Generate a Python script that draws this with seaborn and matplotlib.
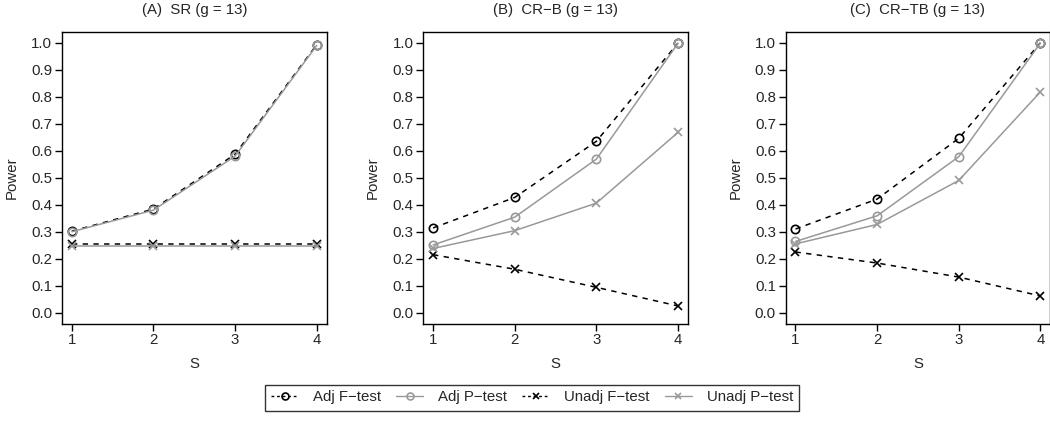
import numpy as np
import pandas as pd
import seaborn as sns
import matplotlib
matplotlib.use("Agg")
import matplotlib.pyplot as plt
from matplotlib.lines import Line2D

S = [1, 2, 3, 4]
panel_titles = ["(A)  SR (g = 13)", "(B)  CR\u2212B (g = 13)", "(C)  CR\u2212TB (g = 13)"]
series_names = ["Adj F\u2212test", "Adj P\u2212test", "Unadj F\u2212test", "Unadj P\u2212test"]

# Panel A (SR)
A_adj_F = [0.302, 0.384, 0.587, 0.993]
A_adj_P = [0.300, 0.380, 0.580, 0.990]
A_unadj_F = [0.253, 0.253, 0.253, 0.253]
A_unadj_P = [0.247, 0.247, 0.247, 0.247]
# Panel B (CR-B)
B_adj_F = [0.314, 0.427, 0.635, 0.999]
B_adj_P = [0.251, 0.354, 0.569, 0.998]
B_unadj_F = [0.215, 0.161, 0.094, 0.025]
B_unadj_P = [0.238, 0.304, 0.406, 0.668]
# Panel C (CR-TB)
C_adj_F = [0.310, 0.421, 0.646, 1.000]
C_adj_P = [0.264, 0.359, 0.578, 0.999]
C_unadj_F = [0.225, 0.184, 0.132, 0.062]
C_unadj_P = [0.255, 0.327, 0.490, 0.818]

panels = [
    [A_adj_F, A_adj_P, A_unadj_F, A_unadj_P],
    [B_adj_F, B_adj_P, B_unadj_F, B_unadj_P],
    [C_adj_F, C_adj_P, C_unadj_F, C_unadj_P],
]

sns.set_theme(style="white")
plt.rcParams["font.family"] = ["Liberation Sans", "DejaVu Sans"]
FS = 10.8
plt.rcParams["font.size"] = FS

GRAY = "#999999"
styles = [
    dict(color="black", marker="o", dashes=(3.5, 3.5)),
    dict(color=GRAY, marker="o", dashes=None),
    dict(color="black", marker="x", dashes=(3.5, 3.5)),
    dict(color=GRAY, marker="x", dashes=None),
]

W, H = 1050, 421
fig = plt.figure(figsize=(W / 100, H / 100), dpi=100)
lefts = [62, 423.3, 785.7]
aw = 264.5
top, bottom = 32, 323.5

for i, (left, title, data) in enumerate(zip(lefts, panel_titles, panels)):
    ax = fig.add_axes([left / W, 1 - bottom / H, aw / W, (bottom - top) / H])
    for name, vals, st in zip(series_names, data, styles):
        df = pd.DataFrame({"S": S, "Power": vals})
        kw = dict(color=st["color"], lw=1.1, marker=st["marker"], markersize=6,
                  markeredgecolor=st["color"], markeredgewidth=1.2)
        if st["marker"] == "o":
            kw["markerfacecolor"] = "none"
        sns.lineplot(data=df, x="S", y="Power", ax=ax, **kw)
        if st["dashes"] is not None:
            ax.lines[-1].set_dashes(st["dashes"])
    ax.set_xlim(0.88, 4.12)
    ax.set_ylim(-0.04, 1.04)
    ax.set_xticks(S)
    ax.set_yticks(np.round(np.arange(0, 1.01, 0.1), 1))
    ax.set_yticklabels([f"{v:.1f}" for v in np.arange(0, 1.01, 0.1)])
    ax.tick_params(axis="both", which="both", direction="out", length=5, width=1,
                   color="black", labelsize=FS, left=True, bottom=True, pad=2)
    for sp in ax.spines.values():
        sp.set_color("black")
        sp.set_linewidth(1.0)
    ax.set_xlabel("S", fontsize=FS, labelpad=7)
    ax.set_ylabel("Power", fontsize=FS, labelpad=9)
    ax.set_title(title, fontsize=FS, pad=13)

handles = []
for name, st in zip(series_names, styles):
    h = Line2D([], [], color=st["color"], lw=1.0, marker=st["marker"], markersize=5,
               markerfacecolor="none" if st["marker"] == "o" else st["color"],
               markeredgecolor=st["color"], markeredgewidth=1.2)
    if st["dashes"] is not None:
        h.set_dashes((2, 2))
    handles.append(h)

leg = fig.legend(handles, series_names, loc="center", ncol=4,
                 bbox_to_anchor=(532 / W, 1 - 397.5 / H), frameon=True, fancybox=False,
                 edgecolor="black", fontsize=FS, handlelength=1.8, columnspacing=1.0,
                 handletextpad=1.0, borderpad=0.4, borderaxespad=0)
leg.get_frame().set_linewidth(1.0)

fig.savefig("out.png", dpi=100)
